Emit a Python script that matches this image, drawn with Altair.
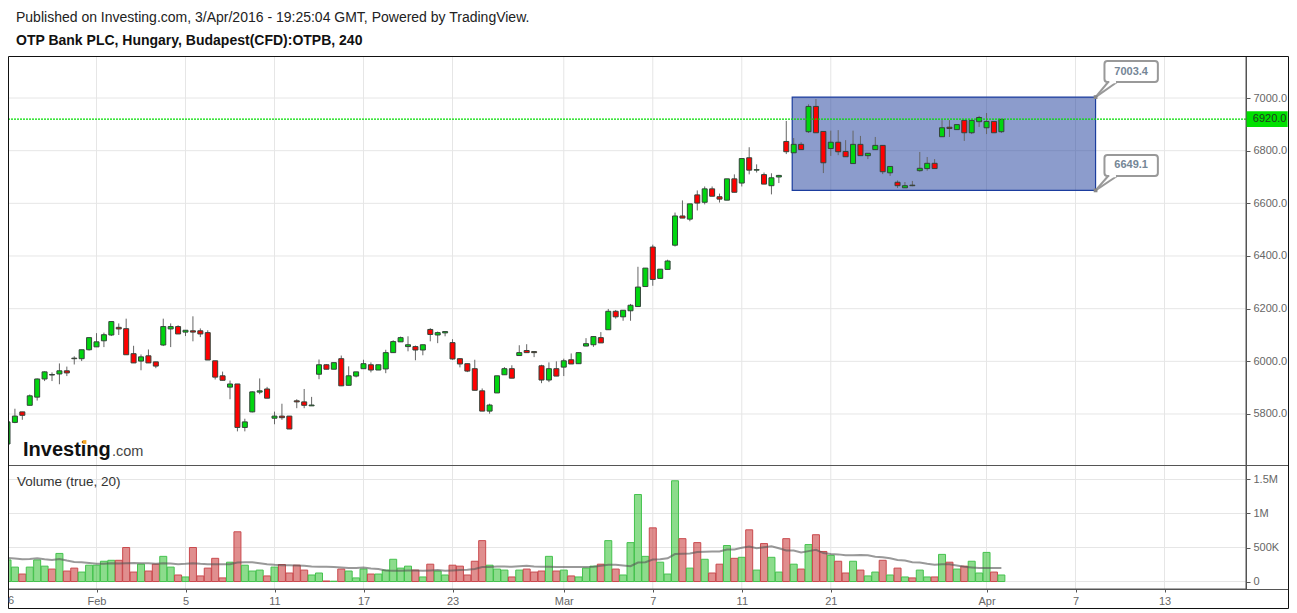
import altair as alt
import pandas as pd

opens = [5686,5768,5808,5833,5864,5933,5950,5952,5964,6012,6010,6044,6055,6078,6100,6129,6124,6029,6001,6021,5998,6062,6123,6132,6111,6116,6116,6109,6002,5945,5902,5914,5749,5808,5883,5895,5784,5792,5792,5850,5846,5831,5951,5987,5970,6010,5909,5944,5972,5987,5967,5971,6033,6074,6056,6056,6043,6121,6100,6108,6071,6010,5991,5972,5888,5811,5880,5949,5972,6022,6041,6037,5983,5929,5972,5978,6006,5991,6058,6063,6090,6120,6190,6169,6192,6208,6284,6434,6315,6349,6441,6552,6540,6632,6604,6655,6625,6612,6693,6677,6773,6726,6709,6667,6700,6835,6792,6824,6872,6968,6873,6808,6832,6797,6751,6824,6781,6804,6820,6716,6680,6659,6669,6724,6732,6752,6853,6889,6880,6915,6868,6910,6887,6911,6872]
closes = [5770,5792,5795,5869,5933,5960,5948,5964,5956,6010,6044,6090,6074,6101,6151,6123,6025,5994,6017,5994,5982,6132,6132,6104,6118,6111,6104,6005,5940,5928,5914,5749,5770,5884,5888,5860,5792,5786,5743,5846,5833,5834,5987,5970,5995,5907,5945,5960,5991,5967,5987,6033,6075,6090,6063,6043,6063,6102,6109,6113,6009,5990,5963,5890,5811,5834,5945,5972,5936,6033,6033,6033,5929,5972,5944,6002,5990,6033,6067,6094,6070,6190,6169,6194,6213,6282,6354,6311,6350,6381,6552,6544,6598,6601,6655,6627,6616,6693,6642,6770,6726,6728,6673,6697,6706,6796,6824,6804,6968,6868,6754,6832,6796,6777,6824,6781,6790,6820,6720,6740,6667,6667,6667,6733,6752,6732,6887,6884,6899,6868,6915,6926,6911,6868,6919]
highs = [5770,5820,5808,5874,5935,5962,5958,5992,5980,6019,6044,6090,6107,6109,6151,6144,6162,6059,6026,6045,5998,6162,6144,6137,6118,6171,6125,6118,6002,5961,5927,5914,5782,5886,5935,5903,5809,5839,5792,5856,5895,5865,6007,5989,5995,6022,5981,5960,6006,5996,5987,6044,6080,6094,6095,6060,6063,6126,6113,6113,6084,6012,5991,6006,5897,5839,5945,5978,5985,6061,6065,6037,5987,5996,6000,6010,6030,6033,6088,6094,6111,6199,6195,6194,6218,6359,6354,6443,6350,6386,6565,6611,6598,6649,6664,6664,6637,6693,6710,6770,6813,6748,6717,6714,6708,6913,6848,6832,6976,6996,6873,6876,6878,6840,6876,6856,6790,6852,6820,6740,6687,6681,6685,6795,6776,6768,6916,6916,6899,6915,6915,6932,6943,6911,6919]
lows = [5680,5765,5778,5833,5851,5925,5925,5913,5944,5988,6001,6041,6055,6054,6096,6100,6025,5994,5966,5994,5974,6058,6054,6104,6096,6076,6092,6005,5931,5928,5856,5734,5734,5806,5875,5860,5761,5778,5743,5822,5822,5831,5932,5970,5970,5906,5909,5939,5972,5958,5967,5955,6033,6074,6038,6004,6023,6076,6069,6095,6006,5977,5959,5890,5811,5801,5880,5949,5936,6022,6033,6016,5917,5921,5944,5944,5990,5991,6058,6055,6070,6120,6162,6154,6154,6208,6284,6287,6315,6349,6436,6544,6532,6573,6596,6627,6603,6612,6642,6664,6710,6717,6673,6634,6677,6787,6792,6804,6867,6868,6715,6780,6783,6777,6751,6781,6768,6804,6711,6704,6658,6659,6665,6720,6724,6732,6853,6852,6880,6837,6863,6890,6863,6868,6867]
volumes_k = [317,212,110,212,317,226,183,413,154,197,139,240,240,298,312,312,500,139,255,154,255,370,212,96,67,500,82,197,341,53,284,731,240,154,168,82,212,250,125,240,168,96,125,8,5,183,154,53,183,110,110,168,327,197,226,168,67,255,154,96,240,226,96,298,601,240,183,168,67,168,183,139,154,370,154,168,82,67,197,226,255,601,183,96,572,1279,370,789,284,110,1481,630,197,572,327,125,255,529,341,356,760,168,558,356,139,630,255,183,543,688,442,385,298,125,298,168,82,139,312,96,197,67,53,168,67,67,399,284,183,226,298,125,428,139,96]
vol_ma_k = [346,337,327,332,341,327,317,332,308,288,284,274,260,260,269,264,269,274,269,269,260,269,264,255,260,269,260,255,255,255,255,279,284,284,269,255,245,240,240,236,231,221,216,216,212,207,197,197,207,192,183,163,159,159,163,163,159,163,168,159,163,168,173,183,212,212,221,221,216,226,231,221,216,216,212,212,212,212,212,216,231,245,245,236,226,279,284,322,327,341,404,409,413,433,438,442,442,471,471,495,514,490,505,519,490,457,457,428,447,466,418,404,399,385,385,389,385,365,356,341,317,308,284,279,260,245,255,255,236,216,207,197,197,197,197]

x_tick_bars = [12, 24, 36, 48, 60, 75, 87, 99, 111, 132, 144, 156]
x_tick_text = ["Feb", "5", "11", "17", "23", "Mar", "7", "11", "21", "Apr", "7", "13"]
first_tick_text = "6"
month_ticks = ["Feb", "Mar", "Apr"]
price_ticks = [5800, 6000, 6200, 6400, 6600, 6800, 7000]
volume_ticks = [0, 500, 1000, 1500]
volume_text = ["0", "500K", "1M", "1.5M"]
last_price = 6920
box_high = 7003.4
box_low = 6649.1

FONT = "Liberation Sans"
W, H = 1281, 601
X_MIN, X_MAX = 0.0674, 172.78
AXIS_BAR = 167.0
BOX_L, BOX_R = 105.8, 146.7

df = pd.DataFrame({"i": range(len(opens)), "o": opens, "c": closes, "h": highs, "l": lows,
                   "v": volumes_k, "m": vol_ma_k})
df["up"] = df["c"] >= df["o"]
df["top"] = df[["o", "c"]].max(axis=1)
df["bot"] = df[["o", "c"]].min(axis=1)

xs = alt.Scale(domain=[X_MIN, X_MAX], nice=False, zero=False, padding=0)
ps = alt.Scale(domain=[5606.3, 7159.5], range=[457, 48], nice=False, zero=False, padding=0)
vs = alt.Scale(domain=[-110, 1713], range=[581, 457], nice=False, zero=False, padding=0)


def X(f, **k):
    return alt.X(f, type="quantitative", scale=xs, axis=None, **k)


def PY(f):
    return alt.Y(f, type="quantitative", scale=ps, axis=None)


def VY(f):
    return alt.Y(f, type="quantitative", scale=vs, axis=None)


def text_mark(s, x, y, size=13, weight="normal", color="#222222", font=FONT, align="left"):
    return alt.Chart(pd.DataFrame({"t": [s]})).mark_text(
        font=font, fontSize=size, fontWeight=weight, color=color, align=align, baseline="alphabetic"
    ).encode(text="t:N", x=alt.value(x), y=alt.value(y))


GRID = "#e6e6e6"
AX = "#555555"
xgrid_df = pd.DataFrame({"i": x_tick_bars})
pgrid_df = pd.DataFrame({"p": price_ticks, "a": X_MIN, "b": AXIS_BAR})
vgrid_df = pd.DataFrame({"p": volume_ticks, "a": X_MIN, "b": AXIS_BAR})

x_grid = alt.Chart(xgrid_df).mark_rule(color=GRID, strokeWidth=1).encode(
    x=X("i"), y=alt.value(48), y2=alt.value(581))
p_grid = alt.Chart(pgrid_df).mark_rule(color=GRID, strokeWidth=1).encode(
    x=X("a"), x2="b:Q", y=PY("p"))

rect_df = pd.DataFrame({"a": [BOX_L], "b": [BOX_R], "y1": [box_high], "y2": [box_low]})
blue = alt.Chart(rect_df).mark_rect(fill="#1a3a9a", fillOpacity=0.5, stroke="#1b3d9e", strokeWidth=1.2).encode(
    x=X("a"), x2="b:Q", y=PY("y1"), y2="y2:Q")

wicks = alt.Chart(df).mark_rule(color="#666666", strokeWidth=1).encode(
    x=X("i"), y=PY("l"), y2="h:Q")
UPDOWN = alt.Color("up:N", scale=alt.Scale(domain=[True, False], range=["#00d60f", "#ff0000"]), legend=None)
bodies = alt.Chart(df).mark_bar(size=5, stroke="#33443a", strokeWidth=1).encode(
    x=X("i"), y=PY("bot"), y2="top:Q", color=UPDOWN)

last_df = pd.DataFrame({"p": [last_price], "a": [X_MIN], "b": [AXIS_BAR]})
last_line = alt.Chart(last_df).mark_rule(stroke="#00dd00", color="#00dd00", strokeWidth=1.2, strokeDash=[2, 1]).encode(
    x=X("a"), x2="b:Q", y=PY("p"))
last_tag = alt.Chart(pd.DataFrame({"a": [AXIS_BAR], "b": [172.6], "y1": [last_price + 30], "y2": [last_price - 30]})).mark_rect(
    fill="#00e000").encode(x=X("a"), x2="b:Q", y=PY("y1"), y2="y2:Q")
last_text = alt.Chart(pd.DataFrame({"a": [167.9], "p": [last_price], "t": ["%.1f" % last_price]})).mark_text(
    font=FONT, fontSize=11, color="#1f3a1f", align="left", baseline="middle").encode(
    x=X("a"), y=PY("p"), text="t:N")

box_rows = [
    dict(a=147.9, b=155.1, y1=box_high + 137.1, y2=box_high + 57.4, t="7003.4", mid=box_high + 97.2),
    dict(a=147.9, b=155.1, y1=box_low + 134.5, y2=box_low + 54.7, t="6649.1", mid=box_low + 94.6),
]
box_df = pd.DataFrame(box_rows)
ptr_df = pd.DataFrame([
    dict(a=BOX_R, b=148.4, y1=box_high, y2=box_high + 57.4),
    dict(a=BOX_R, b=149.6, y1=box_high, y2=box_high + 57.4),
    dict(a=BOX_R, b=148.4, y1=box_low, y2=box_low + 54.7),
    dict(a=BOX_R, b=149.6, y1=box_low, y2=box_low + 54.7),
])
boxes = alt.Chart(box_df).mark_rect(fill="#ffffff", stroke="#999999", strokeWidth=2, cornerRadius=3).encode(
    x=X("a"), x2="b:Q", y=PY("y1"), y2="y2:Q")
gap_df = pd.DataFrame({"a": [148.55, 148.55], "b": [149.45, 149.45], "p": [box_high + 57.4, box_low + 54.7]})
gaps = alt.Chart(gap_df).mark_rule(color="#ffffff", strokeWidth=2.5).encode(x=X("a"), x2="b:Q", y=PY("p"))
ptrs = alt.Chart(ptr_df).mark_rule(color="#999999", strokeWidth=2).encode(
    x=X("a"), x2="b:Q", y=PY("y1"), y2="y2:Q")
anchors = alt.Chart(pd.DataFrame({"a": [BOX_R, BOX_R], "p": [box_high, box_low]})).mark_square(
    size=14, color="#888888", opacity=1).encode(x=X("a"), y=PY("p"))
box_text = alt.Chart(box_df).mark_text(font=FONT, fontSize=11, fontWeight="bold", color="#758696",
                                       align="center", baseline="middle").encode(
    x=alt.X("centre:Q", scale=xs, axis=None), y=PY("mid"), text="t:N"
).transform_calculate(centre="(datum.a+datum.b)/2")

price_axis = alt.Chart(pd.DataFrame({"p": price_ticks})).mark_rule(opacity=0).encode(
    y=alt.Y("p:Q", scale=ps, axis=alt.Axis(
        orient="right", offset=-(W - 1238), values=price_ticks, format=".1f", grid=False,
        tickSize=4, tickColor=AX, domainColor=AX, labelColor="#666666", labelFont=FONT,
        labelFontSize=11, labelPadding=3, title=None, labelOverlap=False)))

# volume panel
v_grid = alt.Chart(vgrid_df).mark_rule(color=GRID, strokeWidth=1).encode(
    x=X("a"), x2="b:Q", y=VY("p"))
VCOL = alt.Color("up:N", scale=alt.Scale(domain=[True, False], range=["#00b100", "#ba0404"]), legend=None)
VSTROKE = alt.Stroke("up:N", scale=alt.Scale(domain=[True, False], range=["#45c24e", "#c94a4e"]), legend=None)
v_bars = alt.Chart(df.assign(zero=0)).mark_bar(size=7, fillOpacity=0.45, strokeWidth=1).encode(
    x=X("i"), y=VY("v"), y2="zero:Q", color=VCOL, stroke=VSTROKE)
v_ma = alt.Chart(df).mark_line(color="#555555", strokeWidth=2, opacity=0.6, interpolate="linear").encode(
    x=X("i"), y=VY("m"))

vol_label_expr = "{" + ",".join("'%d':'%s'" % (a, b) for a, b in zip(volume_ticks, volume_text)) + "}[''+datum.value]"
x_label_expr = "{" + ",".join("'%d':'%s'" % (a, b) for a, b in zip(x_tick_bars, x_tick_text)) + "}[''+datum.value]"
bold_test = " || ".join("datum.label=='%s'" % m for m in month_ticks)

vol_axis = alt.Chart(pd.DataFrame({"p": volume_ticks, "q": [10, 10, 10, 10]})).mark_rule(opacity=0).encode(
    y=alt.Y("p:Q", scale=vs, axis=alt.Axis(
        orient="right", offset=-(W - 1238), values=volume_ticks, labelExpr=vol_label_expr, grid=False,
        tickSize=4, tickColor=AX, domainColor=AX, labelColor="#666666", labelFont=FONT,
        labelFontSize=11, labelPadding=3, title=None, labelOverlap=False)),
    x=alt.X("q:Q", scale=xs, axis=alt.Axis(
        orient="bottom", offset=-(H - 581), values=x_tick_bars, labelExpr=x_label_expr, grid=False,
        tickSize=3, tickColor=AX, domainColor=AX, domainWidth=1, labelColor="#666666", labelFont=FONT,
        labelFontSize=11, labelPadding=3, title=None, labelOverlap=False, labelFlush=False, labelBound=False,
        labelFontWeight=alt.expr("(" + bold_test + ") ? 'bold' : 'normal'"))),
)

# frame & separators
one = pd.DataFrame({"n": [0]})
sep = alt.Chart(one).mark_rule(color=AX, strokeWidth=1).encode(
    x=alt.value(0), x2=alt.value(W), y=alt.value(457.5))
axis_line = alt.Chart(one).mark_rule(color=AX, strokeWidth=1).encode(
    x=alt.value(1238), y=alt.value(48), y2=alt.value(581))
x_line = alt.Chart(one).mark_rule(color=AX, strokeWidth=1).encode(
    x=alt.value(0), x2=alt.value(1238), y=alt.value(581))
frame = alt.Chart(one).mark_rect(fillOpacity=0, stroke="#111111", strokeWidth=1).encode(
    x=alt.value(0.5), x2=alt.value(W - 0.5), y=alt.value(48.5), y2=alt.value(H - 0.5))

title1 = text_mark("Published on Investing.com, 3/Apr/2016 - 19:25:04 GMT, Powered by TradingView.", 8, 14, size=14)
title2 = text_mark("OTP Bank PLC, Hungary, Budapest(CFD):OTPB, 240", 8, 36.5, size=14, weight="bold", color="#111111")
vol_title = text_mark("Volume (true, 20)", 9, 478, size=13.5, color="#333333")
first_tick = text_mark(first_tick_text, 0, 596, size=11, color="#666666")
logo1 = text_mark("Investing", 15, 448, size=20, weight="bold", color="#111111")
logo2 = text_mark(".com", 104, 448, size=14.5, color="#444444")
logo_dot = alt.Chart(one).mark_square(size=14, color="#f5a623", opacity=1).encode(
    x=alt.value(76.5), y=alt.value(434))

price_layer = alt.layer(x_grid, p_grid, price_axis, blue, wicks, bodies, last_line, last_tag, last_text,
                        ptrs, boxes, gaps, anchors, box_text).resolve_axis(x="independent", y="independent")
vol_layer = alt.layer(v_grid, v_bars, v_ma, vol_axis, sep, axis_line, x_line, frame,
                      title1, title2, vol_title, first_tick, logo1, logo2, logo_dot).resolve_axis(x="independent", y="independent")

chart = alt.layer(price_layer, vol_layer).resolve_scale(
    y="independent", color="independent", stroke="independent"
).resolve_axis(x="independent", y="independent").properties(
    width=W, height=H, padding=0, autosize=alt.AutoSizeParams(type="none")
).configure_view(stroke=None)

chart.save("out.html", embed_options={"renderer": "svg", "actions": False})
